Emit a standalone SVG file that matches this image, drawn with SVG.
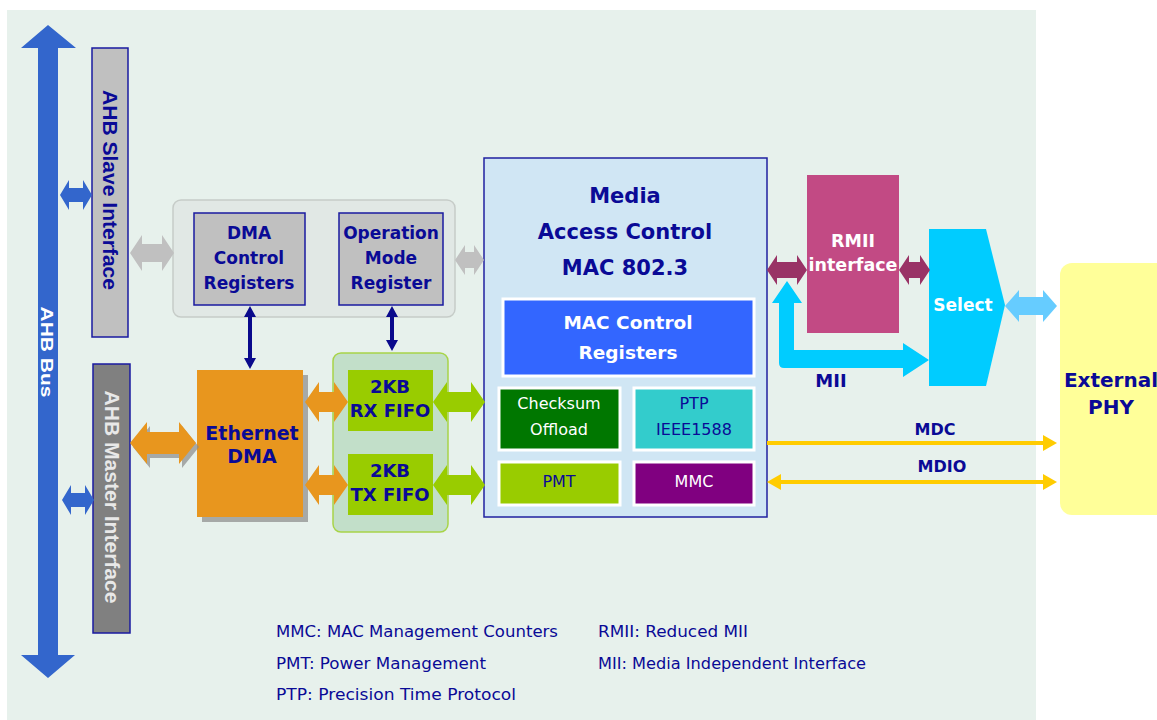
<svg xmlns="http://www.w3.org/2000/svg" width="1157" height="720" viewBox="0 0 1157 720">
<style>
.b{font-family:"DejaVu Sans",Verdana,sans-serif;font-weight:bold;text-anchor:middle;fill:#0A0A96}
.n{font-family:"DejaVu Sans",Verdana,sans-serif;text-anchor:middle}
.r{font-family:"Liberation Sans",Arial,sans-serif;font-weight:bold;text-anchor:middle}
.lg{font-family:"DejaVu Sans",Verdana,sans-serif;font-size:15px;fill:#0A0A96}
.w{fill:#FFFFFF}
</style>
<rect x="0" y="0" width="1157" height="720" fill="#FFFFFF"/>
<rect x="7" y="10" width="1029" height="710" fill="#E7F1EC"/>

<g id="ahb-bus">
<path d="M48,25 L76,48 L58,48 L58,655 L75,655 L48,678 L21,655 L38,655 L38,48 L21,48 Z" fill="#3366CC"/>
<text class="r w" font-size="17" textLength="91" lengthAdjust="spacingAndGlyphs" transform="translate(47,352) rotate(90)" x="0" y="6">AHB Bus</text>
</g>

<g id="ahb-slave">
<rect x="92" y="48" width="36" height="289" fill="#C0C0C0" stroke="#1A1AA0" stroke-width="1.5"/>
<text class="r" fill="#0A0A96" font-size="20" textLength="200" lengthAdjust="spacingAndGlyphs" transform="translate(110,190) rotate(90)" x="0" y="7">AHB Slave Interface</text>
</g>

<g id="ahb-master">
<rect x="93" y="364" width="37" height="269" fill="#808080" stroke="#1A1AA0" stroke-width="1.5"/>
<text class="r" fill="#E8E8E8" font-size="20" textLength="213" lengthAdjust="spacingAndGlyphs" transform="translate(112,497) rotate(90)" x="0" y="7">AHB Master Interface</text>
</g>

<g id="register-group">
<rect x="173" y="200" width="282" height="117" rx="8" fill="#E1E8E5" stroke="#C6CCC8" stroke-width="1.5"/>
</g>
<g id="dma-control-registers">
<rect x="194" y="213" width="111" height="92" fill="#C0C0C0" stroke="#1A1AA0" stroke-width="1.5"/>
<text class="b" font-size="17" x="249" y="239">DMA</text>
<text class="b" font-size="17" x="249" y="264">Control</text>
<text class="b" font-size="17" x="249" y="289">Registers</text>
</g>
<g id="operation-mode-register">
<rect x="339" y="213" width="104" height="92" fill="#C0C0C0" stroke="#1A1AA0" stroke-width="1.5"/>
<text class="b" font-size="17" x="391" y="239">Operation</text>
<text class="b" font-size="17" x="391" y="264">Mode</text>
<text class="b" font-size="17" x="391" y="289">Register</text>
</g>

<g id="ethernet-dma">
<rect x="202" y="375" width="106" height="147" fill="#8A8A8A" opacity="0.7"/>
<rect x="197" y="370" width="106" height="147" fill="#E8961E"/>
<text class="b" font-size="19" x="252" y="440">Ethernet</text>
<text class="b" font-size="19" x="252" y="463">DMA</text>
</g>

<g id="fifo-group">
<rect x="333" y="353" width="115" height="179" rx="8" fill="#C2DFC9" stroke="#A8D448" stroke-width="1.5"/>
</g>
<g id="rx-fifo">
<rect x="348" y="370" width="85" height="61" fill="#99CC00"/>
<text class="b" font-size="18" x="390" y="393">2KB</text>
<text class="b" font-size="18" x="390" y="417">RX FIFO</text>
</g>
<g id="tx-fifo">
<rect x="348" y="454" width="85" height="61" fill="#99CC00"/>
<text class="b" font-size="18" x="390" y="477">2KB</text>
<text class="b" font-size="18" x="390" y="501">TX FIFO</text>
</g>

<g id="mac">
<rect x="484" y="158" width="283" height="359" fill="#D0E6F4" stroke="#2020A0" stroke-width="1.5"/>
<text class="b" font-size="21" x="625" y="203">Media</text>
<text class="b" font-size="21" x="625" y="239">Access Control</text>
<text class="b" font-size="21" x="625" y="275">MAC 802.3</text>
</g>
<g id="mac-control-registers">
<rect x="503" y="299" width="251" height="77" fill="#3366FF" stroke="#FFFFFF" stroke-width="3"/>
<text class="b w" font-size="18.5" x="628" y="329">MAC Control</text>
<text class="b w" font-size="18.5" x="628" y="359">Registers</text>
</g>
<g id="checksum-offload">
<rect x="499" y="388" width="121" height="62" fill="#007700" stroke="#FFFFFF" stroke-width="3"/>
<text class="n w" font-size="16" x="559" y="409">Checksum</text>
<text class="n w" font-size="16" x="559" y="435">Offload</text>
</g>
<g id="ptp">
<rect x="634" y="388" width="120" height="62" fill="#33CCCC" stroke="#FFFFFF" stroke-width="3"/>
<text class="n" fill="#0A0A96" font-size="16" x="694" y="409">PTP</text>
<text class="n" fill="#0A0A96" font-size="16" x="694" y="435">IEEE1588</text>
</g>
<g id="pmt">
<rect x="499" y="462" width="121" height="43" fill="#99CC00" stroke="#FFFFFF" stroke-width="3"/>
<text class="n" fill="#0A0A96" font-size="16" x="559" y="487">PMT</text>
</g>
<g id="mmc">
<rect x="634" y="462" width="120" height="43" fill="#800080" stroke="#FFFFFF" stroke-width="3"/>
<text class="n w" font-size="16" x="694" y="487">MMC</text>
</g>

<g id="rmii-interface">
<rect x="807" y="175" width="92" height="158" fill="#C24A84"/>
<text class="b w" font-size="17.5" x="853" y="247">RMII</text>
<text class="b w" font-size="17.5" x="853" y="271">interface</text>
</g>

<g id="select">
<path d="M929,229 L986,229 L1005,305 L986,386 L929,386 Z" fill="#00CCFF"/>
<text class="b w" font-size="17" x="963" y="311">Select</text>
</g>

<g id="external-phy">
<rect x="1060" y="263" width="120" height="252" rx="12" fill="#FFFF99"/>
<text class="b" font-size="20" x="1111" y="387">External</text>
<text class="b" font-size="20" x="1111" y="414">PHY</text>
</g>

<g id="connectors">
<path d="M60,195 L69,180 L69,188 L83,188 L83,180 L92,195 L83,210 L83,202 L69,202 L69,210 Z" fill="#3366CC"/>
<path d="M62,500 L71,485 L71,493 L85,493 L85,485 L94,500 L85,515 L85,507 L71,507 L71,515 Z" fill="#3366CC"/>
<path d="M130,253 L142,235 L142,244 L162,244 L162,235 L174,253 L162,271 L162,262 L142,262 L142,271 Z" fill="#C0C0C0"/>
<path d="M455,260 L465,245 L465,252 L474,252 L474,245 L484,260 L474,275 L474,268 L465,268 L465,275 Z" fill="#C0C0C0"/>
<path d="M133,447 L150,426 L150,436 L182,436 L182,426 L199,447 L182,468 L182,458 L150,458 L150,468 Z" fill="#8A8A8A" opacity="0.7"/>
<path d="M130,443 L147,422 L147,432 L179,432 L179,422 L196,443 L179,464 L179,454 L147,454 L147,464 Z" fill="#E8961E"/>
<path d="M305,402 L319,382 L319,392 L334,392 L334,382 L348,402 L334,422 L334,412 L319,412 L319,422 Z" fill="#E8961E"/>
<path d="M305,485 L319,465 L319,475 L334,475 L334,465 L348,485 L334,505 L334,495 L319,495 L319,505 Z" fill="#E8961E"/>
<path d="M433,402 L447,382 L447,392 L471,392 L471,382 L485,402 L471,422 L471,412 L447,412 L447,422 Z" fill="#99CC00"/>
<path d="M433,485 L447,465 L447,475 L471,475 L471,465 L485,485 L471,505 L471,495 L447,495 L447,505 Z" fill="#99CC00"/>
<path d="M250,306 L256,317 L252,317 L252,358 L256,358 L250,369 L244,358 L248,358 L248,317 L244,317 Z" fill="#0A0A8C"/>
<path d="M392,306 L398,317 L394,317 L394,340 L398,340 L392,351 L386,340 L390,340 L390,317 L386,317 Z" fill="#0A0A8C"/>
<path d="M767,270 L777,255 L777,262 L797,262 L797,255 L807,270 L797,285 L797,278 L777,278 L777,285 Z" fill="#993366"/>
<path d="M899,270 L909,255 L909,262 L920,262 L920,255 L930,270 L920,285 L920,278 L909,278 L909,285 Z" fill="#993366"/>
<path d="M1005,306 L1019,290 L1019,297 L1043,297 L1043,290 L1057,306 L1043,322 L1043,315 L1019,315 L1019,322 Z" fill="#66CCFF"/>
<path d="M787,281 L802,303 L794,303 L794,350 L903,350 L903,343 L929,360 L903,377 L903,368 L784,368 Q779,368 779,363 L779,303 L772,303 Z" fill="#00CCFF"/>
<line x1="767" y1="443" x2="1045" y2="443" stroke="#FFCC00" stroke-width="4"/>
<path d="M1043,435 L1057,443 L1043,451 Z" fill="#FFCC00"/>
<line x1="779" y1="482" x2="1045" y2="482" stroke="#FFCC00" stroke-width="4"/>
<path d="M1043,474 L1057,482 L1043,490 Z" fill="#FFCC00"/>
<path d="M781,474 L767,482 L781,490 Z" fill="#FFCC00"/>
<text class="b" font-size="18" x="831" y="387">MII</text>
<text class="b" font-size="16" x="935" y="435">MDC</text>
<text class="b" font-size="16" x="942" y="472">MDIO</text>
</g>

<g id="legend">
<text class="lg" x="276" y="637" textLength="282" lengthAdjust="spacingAndGlyphs">MMC: MAC Management Counters</text>
<text class="lg" x="276" y="669" textLength="210" lengthAdjust="spacingAndGlyphs">PMT: Power Management</text>
<text class="lg" x="276" y="700" textLength="240" lengthAdjust="spacingAndGlyphs">PTP: Precision Time Protocol</text>
<text class="lg" x="598" y="637" textLength="150" lengthAdjust="spacingAndGlyphs">RMII: Reduced MII</text>
<text class="lg" x="598" y="669" textLength="268" lengthAdjust="spacingAndGlyphs">MII: Media Independent Interface</text>
</g>
</svg>
